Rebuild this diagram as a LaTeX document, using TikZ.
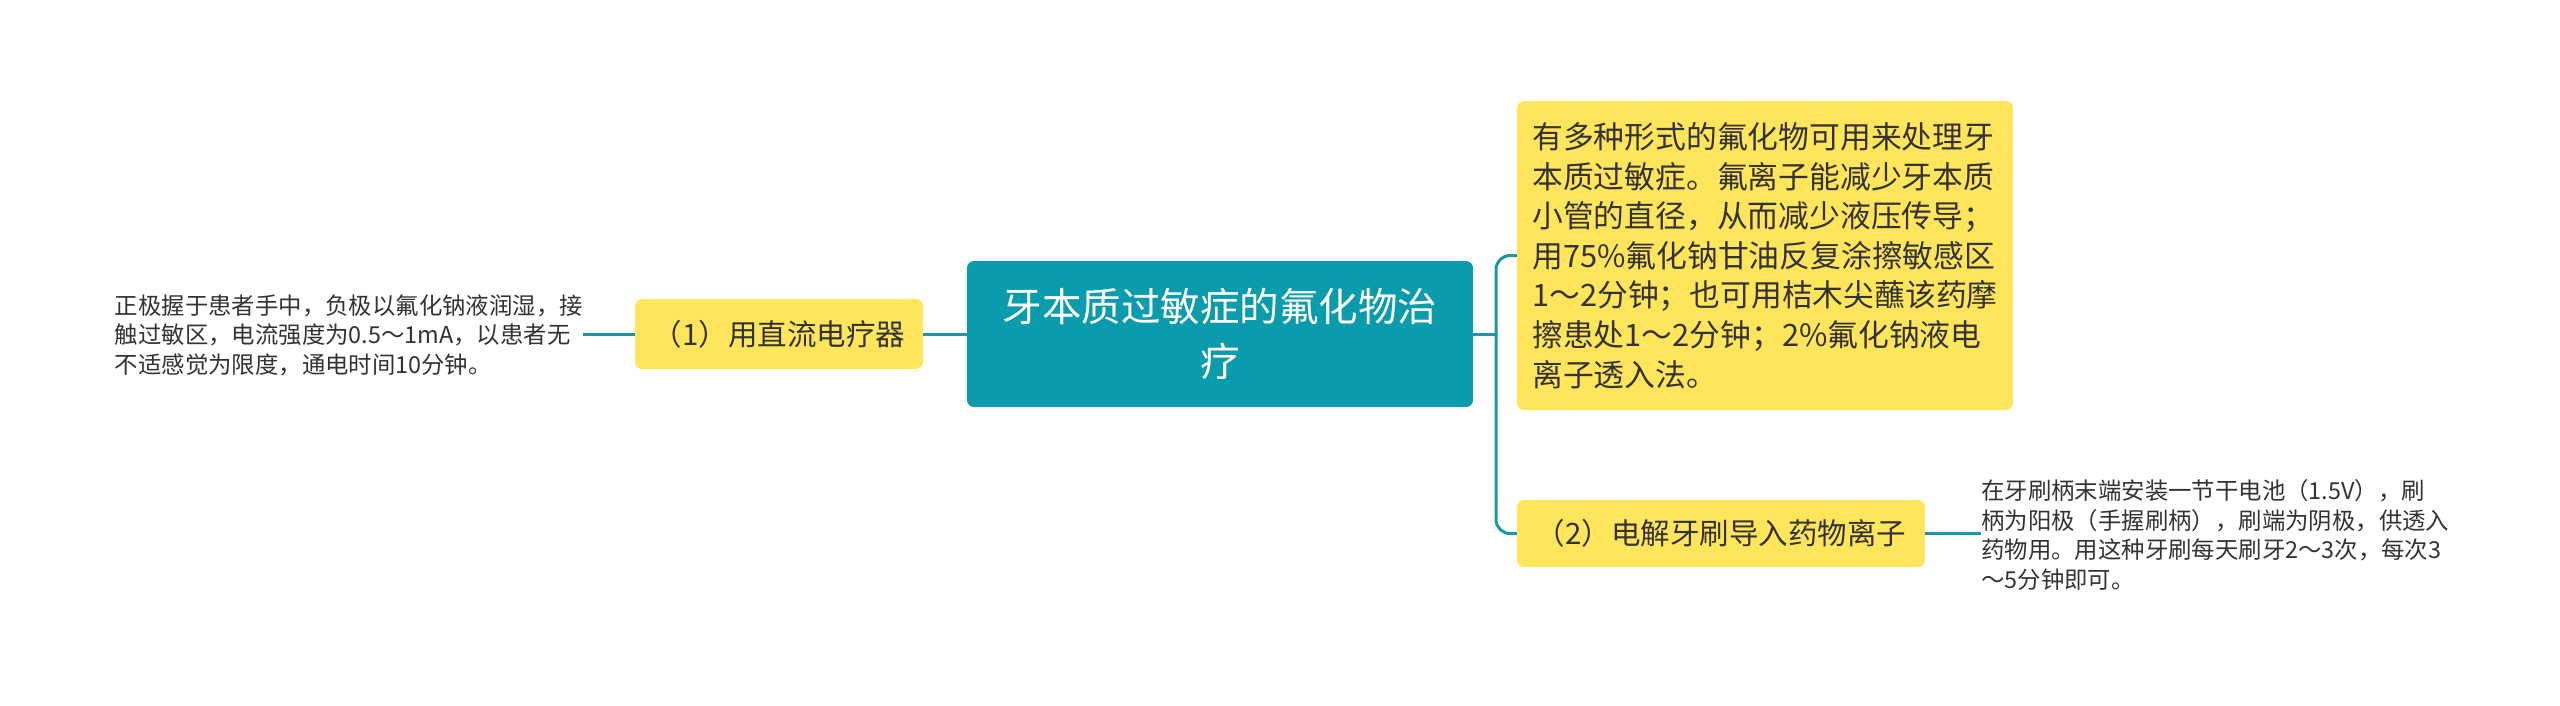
\documentclass[tikz,border=0pt]{standalone}
\usepackage{fontspec}
\setmainfont{Noto Sans CJK SC}
\definecolor{teal}{HTML}{0A9BAD}
\definecolor{lineteal}{HTML}{1C97A8}
\definecolor{yel}{HTML}{FFE55C}
\definecolor{txt}{HTML}{333333}
\begin{document}
\begin{tikzpicture}[x=1pt,y=-1pt,
  rootbox/.style={fill=teal, rounded corners=7pt, inner sep=0pt, minimum width=506pt, minimum height=146pt, align=center, text=white, font=\fontsize{39.5}{55}\selectfont},
  yelbox/.style={fill=yel, rounded corners=7pt, inner sep=0pt, align=left, text=txt},
  leaftext/.style={inner sep=0pt, align=left, text=txt, font=\fontsize{23.4}{29.5}\selectfont},
  conn/.style={draw=lineteal, line width=3pt, rounded corners=14pt}]
\useasboundingbox[fill=white] (0,0) rectangle (2560,705);
\node[rootbox] (root) at (1220,334) {牙本质过敏症的氟化物治\\疗};
\node[yelbox, minimum width=288pt, minimum height=70pt, font=\fontsize{29.5}{36}\selectfont] (b1) at (779,334) {（1）用直流电疗器};
\node[leaftext, anchor=east] (t1) at (583,335) {正极握于患者手中，负极以氟化钠液润湿，接\\触过敏区，电流强度为0.5～1mA，以患者无\\不适感觉为限度，通电时间10分钟。};
\node[yelbox, minimum width=496pt, minimum height=309pt, font=\fontsize{30.8}{39.6}\selectfont] (b0) at (1765,255.5) {有多种形式的氟化物可用来处理牙\\本质过敏症。氟离子能减少牙本质\\小管的直径，从而减少液压传导；\\用75\%氟化钠甘油反复涂擦敏感区\\1～2分钟；也可用桔木尖蘸该药摩\\擦患处1～2分钟；2\%氟化钠液电\\离子透入法。};
\node[yelbox, minimum width=408pt, minimum height=67pt, font=\fontsize{29.5}{36}\selectfont] (b2) at (1721,533.5) {（2）电解牙刷导入药物离子};
\node[leaftext, anchor=west] (t2) at (1981,535) {在牙刷柄末端安装一节干电池（1.5V），刷\\柄为阳极（手握刷柄），刷端为阴极，供透入\\药物用。用这种牙刷每天刷牙2～3次，每次3\\～5分钟即可。};
\coordinate (fork) at (1496,334);
\draw[conn] (root.east) -- (fork);
\draw[conn] (fork) |- (b0.west);
\draw[conn] (fork) |- (b2.west);
\draw[conn] (root.west) -- (b1.east);
\draw[conn] (b1.west) -- (b1.west -| t1.east);
\draw[conn] (b2.east) -- (b2.east -| t2.west);
\end{tikzpicture}
\end{document}
